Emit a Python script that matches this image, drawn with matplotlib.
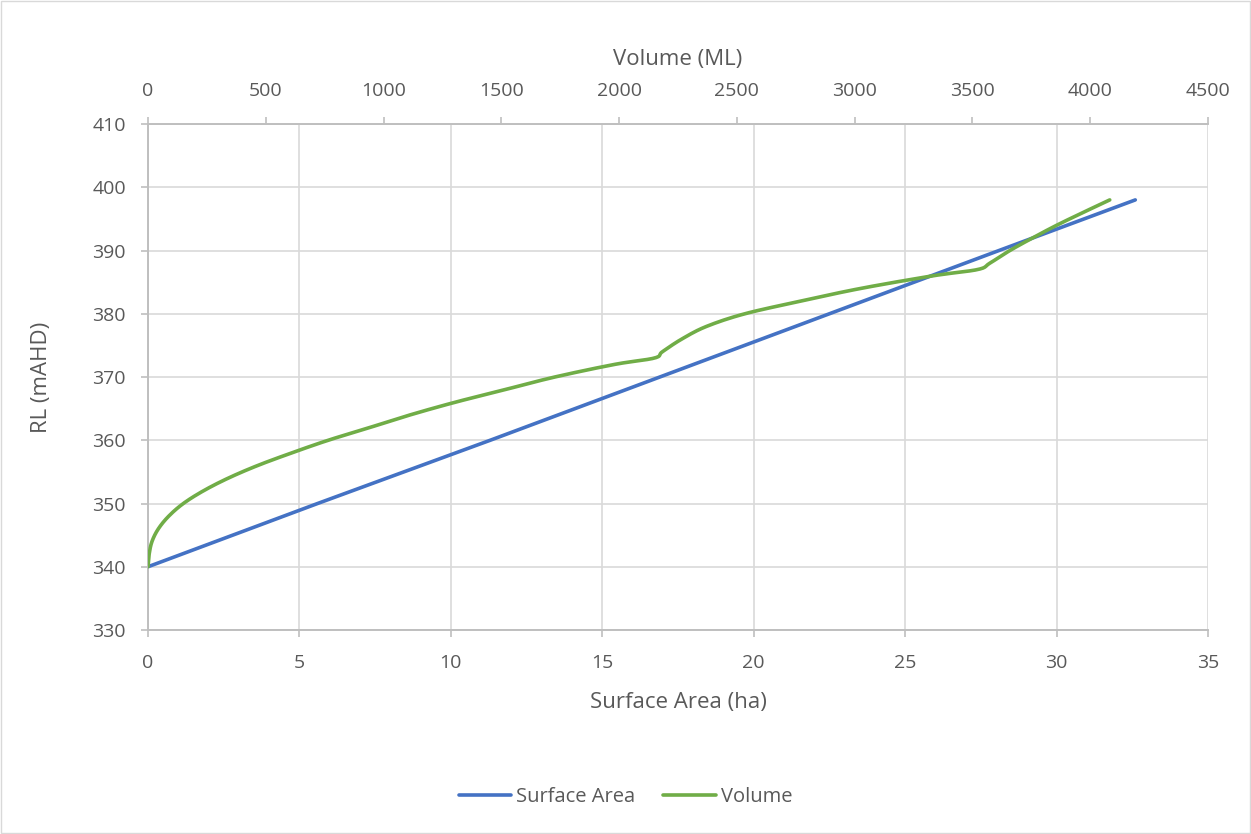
import matplotlib.pyplot as plt
import numpy as np

# RL levels (mAHD)
rl_area = [340, 350, 360, 370, 380, 390, 398]
surface_area = [0, 5.6, 11.3, 16.9, 22.5, 28.1, 32.6]

rl_vol = [340, 342, 344, 346, 348, 350, 352, 354, 356, 358, 360, 362, 364,
          366, 368, 370, 372, 373, 374, 376, 378, 380, 382, 384, 386, 387,
          388, 390, 392, 394, 396, 398]
volume = [0, 5, 17, 44, 88, 150, 235, 340, 465, 610, 765, 940, 1112,
          1303, 1515, 1727, 1982, 2150, 2184, 2266, 2371, 2534, 2771, 3025,
          3332, 3523, 3574, 3659, 3756, 3858, 3969, 4083]

area_ticks = np.arange(0, 36, 5)
vol_ticks = np.arange(0, 4501, 500)
rl_ticks = np.arange(330, 411, 10)


def smooth(x, y, n=12):
    # catmull-rom through the points, like excel's smoothed line
    x = np.asarray(x, float)
    y = np.asarray(y, float)
    px = np.concatenate([[x[0]], x, [x[-1]]])
    py = np.concatenate([[y[0]], y, [y[-1]]])
    t = np.linspace(0, 1, n, endpoint=False)
    xs, ys = [], []
    for i in range(1, len(px) - 2):
        for p, out in ((px, xs), (py, ys)):
            p0, p1, p2, p3 = p[i - 1], p[i], p[i + 1], p[i + 2]
            out.extend(0.5 * (2 * p1 + (-p0 + p2) * t
                              + (2 * p0 - 5 * p1 + 4 * p2 - p3) * t ** 2
                              + (-p0 + 3 * p1 - 3 * p2 + p3) * t ** 3))
    xs.append(x[-1])
    ys.append(y[-1])
    return xs, ys


grey = '#595959'
grid = '#d9d9d9'
axis_c = '#bfbfbf'
plt.rcParams['font.family'] = ['Open Sans', 'DejaVu Sans']

fig = plt.figure(figsize=(12.51, 8.34), dpi=100)
ax = fig.add_axes([0.1183, 0.2446, 0.9656 - 0.1183, 0.8513 - 0.2446])

ax.plot(surface_area, rl_area, color='#4472C4', lw=2.6,
        solid_capstyle='round', label='Surface Area', zorder=3)
ax.set_xlim(0, 35)
ax.set_ylim(330, 410)
ax.set_xticks(area_ticks)
ax.set_yticks(rl_ticks)
ax.grid(True, color=grid, lw=1.2)
ax.set_axisbelow(True)
ax.set_xlabel('Surface Area (ha)', fontsize=16, color=grey, labelpad=15)
ax.set_ylabel('RL (mAHD)', fontsize=16, color=grey, labelpad=29)
ax.tick_params(axis='both', labelsize=14, labelcolor=grey, length=5,
               width=1.2, color=axis_c)
ax.tick_params(axis='x', pad=12)
ax.tick_params(axis='y', pad=11)

vx, vy = smooth(volume, rl_vol)
ax2 = ax.twiny()
ax2.plot(vx, vy, color='#70AD47', lw=2.6,
         solid_capstyle='round', label='Volume', zorder=3)
ax2.set_xlim(0, 4500)
ax2.set_xticks(vol_ticks)
ax2.set_xlabel('Volume (ML)', fontsize=16, color=grey, labelpad=12.5)
ax2.tick_params(axis='x', labelsize=14, labelcolor=grey, length=5,
                width=1.2, color=axis_c, pad=12)

for a in (ax, ax2):
    for s in a.spines.values():
        s.set_color(axis_c)
        s.set_linewidth(1.2)
    a.spines['right'].set_visible(False)

h1, l1 = ax.get_legend_handles_labels()
h2, l2 = ax2.get_legend_handles_labels()
fig.legend(h1 + h2, l1 + l2, loc='center', bbox_to_anchor=(0.5, 0.044),
           ncol=2, frameon=False, fontsize=14.5, labelcolor=grey,
           handlelength=2.6, handletextpad=0.25, columnspacing=1.4)

fig.patches.append(plt.Rectangle((0.001, 0.001), 0.998, 0.998,
                                 transform=fig.transFigure, fill=False,
                                 edgecolor=grid, lw=1))

fig.savefig('out.png', dpi=100, facecolor='white')
